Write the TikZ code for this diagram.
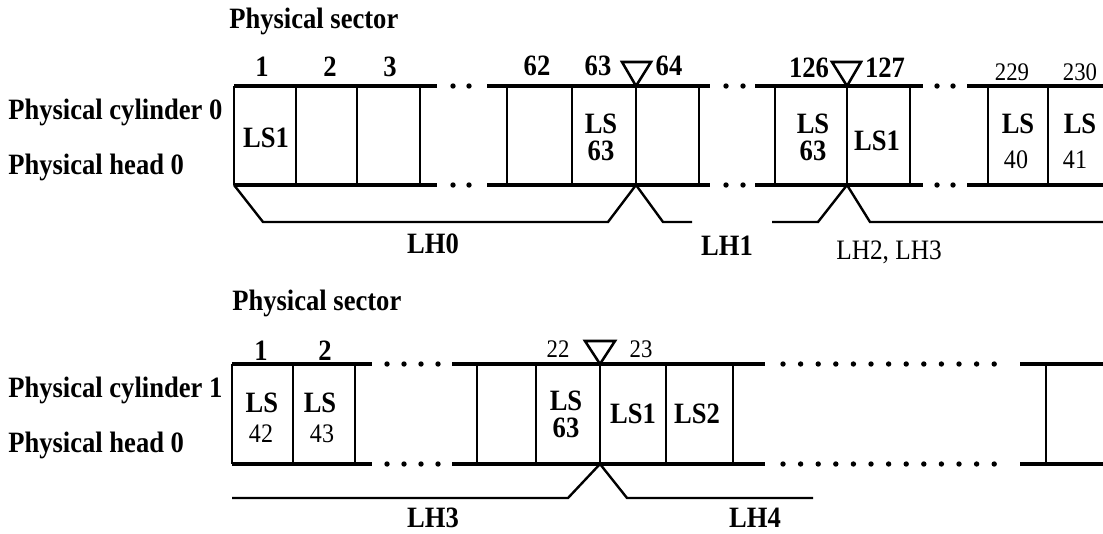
\documentclass[tikz,border=0pt]{standalone}
\usepackage{fontspec}
\setmainfont{Liberation Serif}[FakeStretch=0.9]
\newfontfamily\heavyfont{Liberation Serif}[FakeStretch=0.9]
\usetikzlibrary{positioning}

\begin{document}
\begin{tikzpicture}[x=0.025cm, y=-0.025cm]
    % Stili
    \tikzstyle{rail}=[line width=2.6pt]
    \tikzstyle{wall}=[line width=1.8pt]
    \tikzstyle{brace}=[line width=1.7pt, line join=miter]
    \tikzstyle{pointer}=[line width=1.8pt, line join=miter]
    \tikzstyle{big}=[inner sep=0pt, anchor=base, font=\heavyfont\bfseries\fontsize{21}{19.2}\selectfont]
    \tikzstyle{twoline}=[big, align=center]
    \tikzstyle{lite}=[inner sep=0pt, anchor=base, font=\fontsize{19}{19}\selectfont]
    \tikzstyle{tiny}=[inner sep=0pt, anchor=base, font=\fontsize{18}{18}\selectfont]
    \tikzstyle{side}=[big, anchor=base west]

    \useasboundingbox (0,0) rectangle (1103,533);

    % Cilindro 0: binari e settori
    \draw[rail] (234,86) -- (437,86) (234,185) -- (437,185);
    \draw[rail] (487,86) -- (710,86) (487,185) -- (710,185);
    \draw[rail] (755,86) -- (923,86) (755,185) -- (923,185);
    \draw[rail] (967,86) -- (1103,86) (967,185) -- (1103,185);
    \draw[wall] (234,86) -- (234,185) (296,86) -- (296,185) (357,86) -- (357,185) (420,86) -- (420,185);
    \draw[wall] (507,86) -- (507,185) (572,86) -- (572,185) (636,86) -- (636,185) (699,86) -- (699,185);
    \draw[wall] (775,86) -- (775,185) (847,86) -- (847,185) (910,86) -- (910,185);
    \draw[wall] (988,86) -- (988,185) (1048,86) -- (1048,185);
    \foreach \x in {453,469,726,743,937,953}
        \fill (\x,86) circle (2.7) (\x,185) circle (2.7);
    \draw[pointer] (622,62) -- (651,62) -- (636,86) -- cycle;
    \draw[pointer] (832,62) -- (861,62) -- (847,86) -- cycle;

    % Cilindro 0: testine logiche
    \draw[brace] (234,185) -- (263,222) -- (608,222) -- (636,185) -- (663,222) -- (692,222);
    \draw[brace] (772,222) -- (818,222) -- (847,185) -- (870,222) -- (1103,222);

    % Cilindro 0: etichette
    \node (sector0) [side] at (229,28) {Physical sector};
    \node (cyl0) [side] at (8,119) {Physical cylinder 0};
    \node (head0) [side] at (8,174) {Physical head 0};
    \node (s1) [big] at (262,76) {1};
    \node (s2) [big] at (330,76) {2};
    \node (s3) [big] at (390,76) {3};
    \node (s62) [big] at (537,75) {62};
    \node (s63) [big] at (598,75) {63};
    \node (s64) [big] at (669,75) {64};
    \node (s126) [big] at (809,77) {126};
    \node (s127) [big] at (885,77) {127};
    \node (s229) [tiny] at (1012,80) {229};
    \node (s230) [tiny] at (1080,80) {230};
    \node (lsa) [big] at (266,147) {LS1};
    \node (lsb) [twoline] at (601,160) {LS\\63};
    \node (lsc) [twoline] at (813,160) {LS\\63};
    \node (lsd) [big] at (877,150) {LS1};
    \node (lse) [big] at (1018,133) {LS};
    \node (ne) [lite] at (1016,168) {40};
    \node (lsf) [big] at (1080,133) {LS};
    \node (nf) [lite] at (1075,168) {41};
    \node (lh0) [big] at (433,253) {LH0};
    \node (lh1) [big] at (727,255) {LH1};
    \node (lh23) [lite, font=\fontsize{20}{20}\selectfont] at (889,259) {LH2, LH3};

    % Cilindro 1: binari e settori
    \draw[rail] (232,364) -- (372,364) (232,464) -- (372,464);
    \draw[rail] (452,364) -- (765,364) (452,464) -- (765,464);
    \draw[rail] (1020,364) -- (1103,364) (1020,464) -- (1103,464);
    \draw[wall] (232,364) -- (232,464) (293,364) -- (293,464) (355,364) -- (355,464);
    \draw[wall] (477,364) -- (477,464) (536,364) -- (536,464) (600,364) -- (600,464) (666,364) -- (666,464) (733,364) -- (733,464);
    \draw[wall] (1046,364) -- (1046,464);
    \foreach \x in {387,404,421,438}
        \fill (\x,364) circle (2.7) (\x,464) circle (2.7);
    \foreach \i in {0,...,12}
        \fill (783+17.6*\i,364) circle (2.7) (783+17.6*\i,464) circle (2.7);
    \draw[pointer] (585,341) -- (615,341) -- (600,364) -- cycle;

    % Cilindro 1: testine logiche
    \draw[brace] (232,498) -- (568,498) -- (600,464) -- (627,498) -- (813,498);

    % Cilindro 1: etichette
    \node (sector1) [side] at (232,310) {Physical sector};
    \node (cyl1) [side] at (8,397) {Physical cylinder 1};
    \node (head1) [side] at (8,452) {Physical head 0};
    \node (t1) [big] at (261,360) {1};
    \node (t2) [big] at (325,360) {2};
    \node (t22) [tiny] at (558,357) {22};
    \node (t23) [tiny] at (641,357) {23};
    \node (lsg) [big] at (262,412) {LS};
    \node (ng) [lite] at (261,442) {42};
    \node (lsh) [big] at (320,412) {LS};
    \node (nh) [lite] at (322,442) {43};
    \node (lsi) [twoline] at (566,437) {LS\\63};
    \node (lsj) [big] at (633,423) {LS1};
    \node (lsk) [big] at (697,423) {LS2};
    \node (lh3) [big] at (433,527) {LH3};
    \node (lh4) [big] at (755,527) {LH4};
\end{tikzpicture}
\end{document}
